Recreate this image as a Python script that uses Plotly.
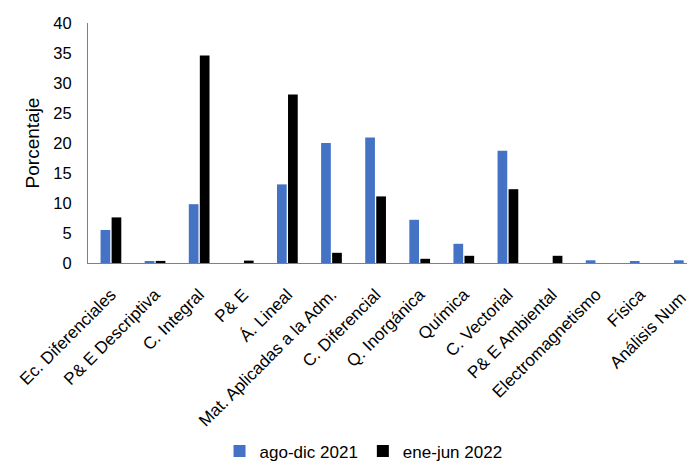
import plotly.graph_objects as go

categories = ["Ec. Diferenciales", "P& E Descriptiva", "C. Integral", "P& E", "Á. Lineal",
              "Mat. Aplicadas a la Adm.", "C. Diferencial", "Q. Inorgánica", "Química",
              "C. Vectorial", "P& E Ambiental", "Electromagnetismo", "Física", "Análisis Num."]
ago_dic_2021 = [5.5, 0.2, 9.8, 0, 13.1, 20.0, 20.9, 7.2, 3.2, 18.7, 0, 0.45, 0.3, 0.45]
ene_jun_2022 = [7.6, 0.35, 34.6, 0.4, 28.1, 1.7, 11.1, 0.7, 1.2, 12.3, 1.2, 0, 0, 0]
y_ticks = [0, 5, 10, 15, 20, 25, 30, 35, 40]

fig = go.Figure()
fig.add_trace(go.Bar(x=categories, y=ago_dic_2021, name="ago-dic 2021",
                     marker=dict(color="#4472C4", line=dict(width=0))))
fig.add_trace(go.Bar(x=categories, y=ene_jun_2022, name="ene-jun 2022",
                     marker=dict(color="#000000", line=dict(width=0))))

font = "Liberation Sans, Arial, sans-serif"
fig.update_layout(
    width=687, height=464,
    margin=dict(l=88, r=0, t=23, b=201),
    paper_bgcolor="white", plot_bgcolor="white",
    barmode="group", bargap=0.5, bargroupgap=0.12,
    font=dict(family=font, color="black", size=17),
    showlegend=True,
    legend=dict(orientation="h", x=0.46, xanchor="center",
                yref="container", y=0.066, yanchor="top",
                font=dict(size=17), itemwidth=30, tracegroupgap=0),
    xaxis=dict(tickangle=-45, tickfont=dict(size=17), showline=True, linecolor="#808080",
               linewidth=1, ticks="", showgrid=False, range=[-0.52, 13.06],
               ticklabelstandoff=14, automargin=False),
    yaxis=dict(range=[0, 40], tickvals=y_ticks, tickfont=dict(size=16.5), showline=True,
               linecolor="#808080", linewidth=1, showgrid=False, zeroline=False,
               ticklabelstandoff=12, automargin=False,
               title=dict(text="Porcentaje", font=dict(size=19), standoff=8)),
)
fig.write_html("out.html")
